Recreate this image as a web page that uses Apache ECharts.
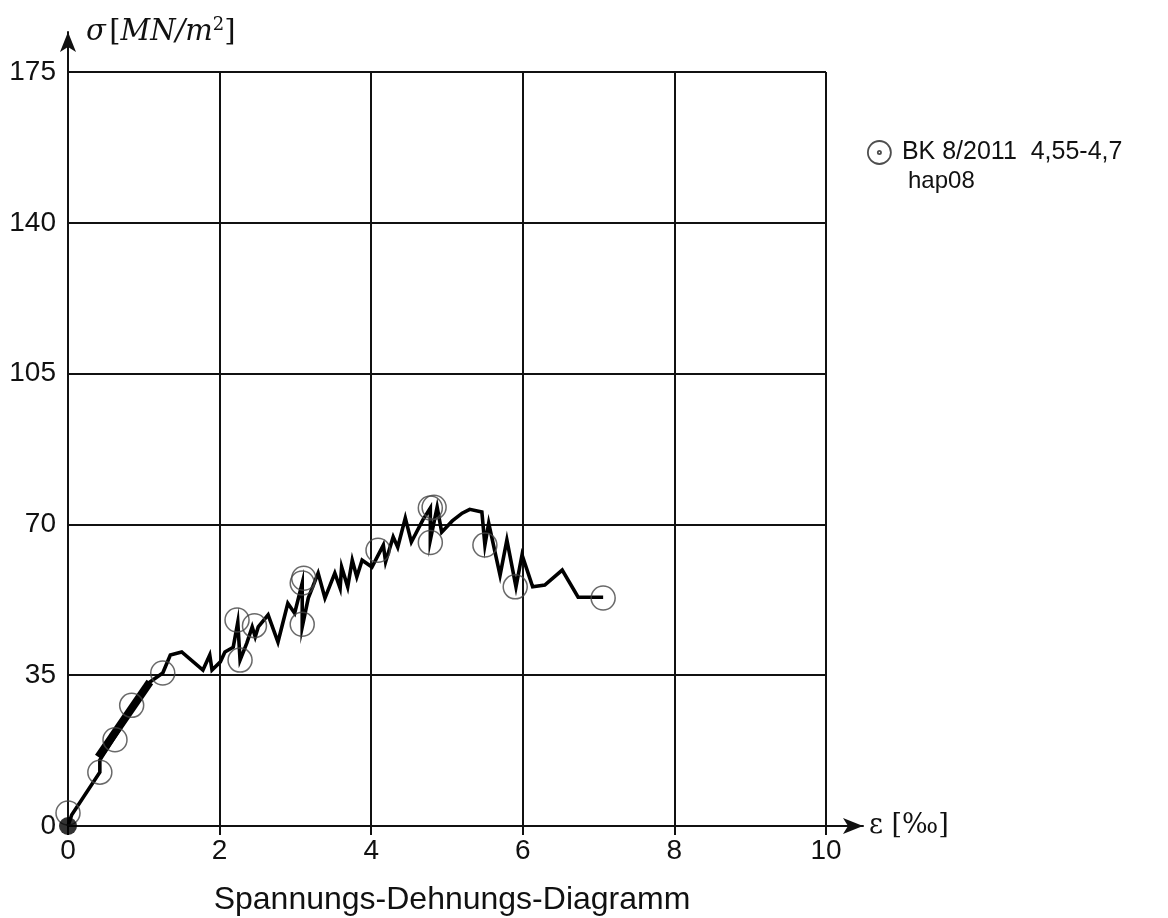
<!DOCTYPE html>
<html>
<head>
<meta charset="utf-8">
<script src="https://cdn.jsdelivr.net/npm/echarts@6/dist/echarts.min.js"></script>
<style>
  html, body { margin: 0; padding: 0; background: #fff; }
  #chart { width: 1168px; height: 918px; }
</style>
</head>
<body>
<div id="chart"></div>
<script>
// Dehnung [‰] / Spannung [MN/m²]
const xTicks = [0, 2, 4, 6, 8, 10];
const yTicks = [0, 35, 70, 105, 140, 175];

// Messkurve (dünn)
const curve = [
  [0, 0], [0.05, 2.6], [0.42, 12.5], [0.42, 15.3], [1.08, 33.4], [1.25, 35.5],
  [1.35, 39.7], [1.5, 40.4], [1.78, 36.2], [1.87, 39.7], [1.9, 36.2], [2.01, 38.1],
  [2.07, 40.4], [2.18, 41.5], [2.24, 47.3], [2.27, 38.5], [2.36, 42.5], [2.43, 46.2],
  [2.47, 43.9], [2.51, 46.2], [2.64, 49.0], [2.77, 42.7], [2.9, 51.7], [2.99, 49.4],
  [3.09, 56.4], [3.09, 46.2], [3.17, 52.9], [3.3, 58.7], [3.39, 52.9], [3.52, 58.7],
  [3.59, 55.2], [3.61, 60.1], [3.69, 55.5], [3.75, 61.7], [3.81, 57.8], [3.88, 61.7],
  [4.01, 60.1], [4.16, 65.2], [4.19, 61.3], [4.29, 67.1], [4.35, 64.7], [4.45, 71.5],
  [4.53, 65.9], [4.68, 71.0], [4.78, 73.8], [4.78, 66.4], [4.87, 74.0], [4.93, 68.2],
  [5.07, 70.8], [5.2, 72.6], [5.3, 73.5], [5.46, 72.9], [5.5, 65.2], [5.55, 70.3],
  [5.7, 58.2], [5.79, 66.4], [5.91, 55.5], [5.99, 62.9], [6.13, 55.5], [6.29, 55.9],
  [6.52, 59.4], [6.73, 53.1], [7.06, 53.1]
];

// dicker Abschnitt
const thickPart = [[0.4, 16.0], [1.08, 33.4]];

// Messpunkte (Kreise)
const points = [
  [0, 3], [0.42, 12.5], [0.62, 20], [0.84, 28], [1.25, 35.5], [2.23, 47.8],
  [2.27, 38.5], [2.46, 46.5], [3.09, 46.8], [3.09, 56.4], [3.11, 57.5], [4.09, 64],
  [4.78, 73.8], [4.83, 74], [4.78, 65.8], [5.5, 65.2], [5.9, 55.5], [7.06, 52.9]
];

const origin = [[0, 0]];

const seriesName = 'BK 8/2011  4,55-4,7';
const sansFont = 'Liberation Sans';
const serifFont = 'DejaVu Serif';

const chart = echarts.init(document.getElementById('chart'));

const option = {
  backgroundColor: '#fff',
  animation: false,
  title: [
    {
      text: 'Spannungs-Dehnungs-Diagramm',
      left: 447,
      textAlign: 'center',
      top: 879,
      textStyle: { fontFamily: sansFont, fontSize: 32, fontWeight: 'normal', color: '#111' }
    },
    {
      text: 'hap08',
      left: 903,
      top: 164,
      textStyle: { fontFamily: sansFont, fontSize: 24, fontWeight: 'normal', color: '#111' }
    }
  ],
  legend: {
    data: [seriesName],
    left: 862,
    top: 135,
    itemWidth: 23,
    itemHeight: 23,
    itemGap: 10,
    icon: 'path://M10,0A10,10,0,1,1,10,20A10,10,0,1,1,10,0Z M10,8.6A1.4,1.4,0,1,1,10,11.4A1.4,1.4,0,1,1,10,8.6Z',
    itemStyle: { color: 'transparent', borderColor: '#222', borderWidth: 1.8 },
    textStyle: { fontFamily: sansFont, fontSize: 25, color: '#111', padding: [0, 0, 0, 6] }
  },
  grid: [
    { left: 68, right: 342, top: 72, bottom: 92 },
    { left: 68, right: 305, top: 32, bottom: 92 }
  ],
  xAxis: [
    {
      type: 'value',
      gridIndex: 0,
      min: 0,
      max: 10,
      interval: 2,
      axisLine: { show: false },
      axisTick: { show: true, length: 9, lineStyle: { color: '#111', width: 2 } },
      axisLabel: { fontFamily: sansFont, fontSize: 28, color: '#111', margin: 11 },
      splitLine: { show: true, lineStyle: { color: '#111', width: 2 } }
    },
    {
      type: 'value',
      gridIndex: 1,
      min: 0,
      max: 1,
      axisLine: { show: true, symbol: ['none', 'arrow'], symbolSize: [12, 20], lineStyle: { color: '#111', width: 2 } },
      axisTick: { show: false },
      axisLabel: { show: false },
      splitLine: { show: false },
      name: '\u03b5 [\u2030]',
      nameLocation: 'end',
      nameGap: 6,
      nameTextStyle: { fontFamily: serifFont, fontSize: 27, color: '#111', verticalAlign: 'middle' }
    }
  ],
  yAxis: [
    {
      type: 'value',
      gridIndex: 0,
      min: 0,
      max: 175,
      interval: 35,
      axisLine: { show: false },
      axisTick: { show: false },
      axisLabel: { fontFamily: sansFont, fontSize: 28, color: '#111', margin: 12 },
      splitLine: { show: true, lineStyle: { color: '#111', width: 2 } }
    },
    {
      type: 'value',
      gridIndex: 1,
      min: 0,
      max: 1,
      axisLine: { show: true, symbol: ['none', 'arrow'], symbolSize: [12, 20], lineStyle: { color: '#111', width: 2 } },
      axisTick: { show: false },
      axisLabel: { show: false },
      splitLine: { show: false },
      name: '{i|\u03c3} {r|[}{i|MN/m}{s|2}{r|]}',
      nameLocation: 'end',
      nameGap: -16,
      nameTextStyle: {
        align: 'left',
        padding: [0, 0, 0, 18],
        rich: {
          i: { fontFamily: serifFont, fontStyle: 'italic', fontSize: 29, color: '#111' },
          r: { fontFamily: serifFont, fontSize: 29, color: '#111' },
          s: { fontFamily: serifFont, fontSize: 18, color: '#111', verticalAlign: 'top', padding: [0, 0, 14, 0] }
        }
      }
    }
  ],
  series: [
    {
      name: 'kurve',
      type: 'line',
      xAxisIndex: 0,
      yAxisIndex: 0,
      data: curve,
      showSymbol: false,
      symbol: 'none',
      lineStyle: { color: '#000', width: 3.6, join: 'miter' },
      z: 3
    },
    {
      name: 'dick',
      type: 'line',
      xAxisIndex: 0,
      yAxisIndex: 0,
      data: thickPart,
      symbol: 'none',
      lineStyle: { color: '#000', width: 8 },
      z: 4
    },
    {
      name: seriesName,
      type: 'scatter',
      xAxisIndex: 0,
      yAxisIndex: 0,
      data: points,
      symbol: 'circle',
      symbolSize: 24,
      itemStyle: { color: 'transparent', borderColor: '#444', borderWidth: 1.5 },
      z: 5
    },
    {
      name: 'ursprung',
      type: 'scatter',
      xAxisIndex: 0,
      yAxisIndex: 0,
      data: origin,
      symbol: 'circle',
      symbolSize: 18,
      itemStyle: { color: '#000' },
      z: 6
    }
  ]
};

chart.setOption(option);
</script>
</body>
</html>
